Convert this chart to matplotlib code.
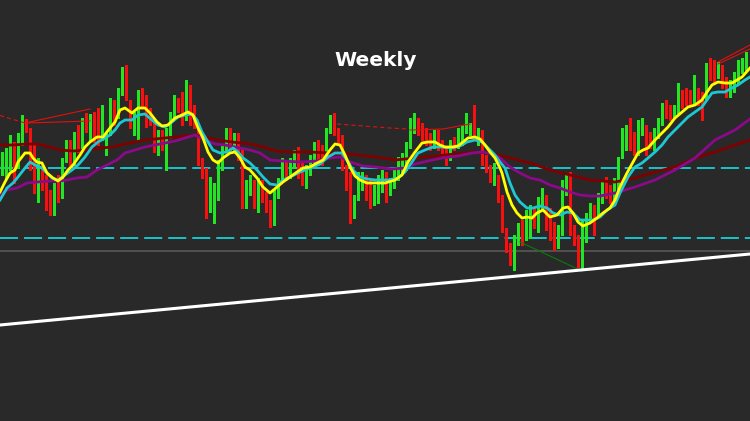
import matplotlib
matplotlib.use("Agg")
import matplotlib.pyplot as plt
import numpy as np

# ----------------------------------------------------------------------------
# Weekly candles (price in chart units)
# ----------------------------------------------------------------------------
opens = [233, 232, 235, 253, 235, 258, 278, 270, 248, 210, 232, 222, 203, 190, 214, 208, 245, 255, 238, 270,
         252, 283, 265, 283, 278, 265, 248, 268, 295, 285, 308, 330, 292, 275, 278, 307, 298, 288, 272, 250,
         265, 262, 267, 288, 298, 303, 287, 303, 292, 272, 237, 227, 198, 207, 207, 235, 252, 268, 255, 263,
         248, 198, 210, 217, 205, 215, 203, 193, 177, 210, 225, 233, 230, 235, 242, 232, 220, 230, 240, 257,
         252, 247, 270, 283, 268, 262, 232, 223, 185, 202, 220, 220, 217, 200, 205, 213, 225, 212, 218, 223,
         233, 233, 255, 277, 278, 272, 268, 262, 257, 265, 255, 248, 245, 260, 257, 258, 270, 270, 273, 258,
         267, 240, 230, 220, 220, 202, 158, 153, 140, 160, 175, 168, 187, 187, 172, 198, 200, 188, 172, 162,
         170, 213, 227, 170, 162, 132, 162, 183, 190, 190, 202, 213, 210, 205, 213, 247, 255, 270, 257, 250,
         270, 273, 262, 255, 267, 278, 293, 290, 287, 290, 307, 308, 305, 298, 307, 302, 303, 337, 333, 328,
         332, 320, 308, 312, 320, 330, 335]
highs = [248, 252, 265, 258, 267, 285, 281, 272, 255, 242, 235, 225, 210, 217, 225, 242, 260, 260, 268, 275,
         282, 287, 286, 288, 292, 295, 268, 302, 300, 312, 333, 335, 300, 288, 310, 312, 305, 292, 278, 270,
         270, 272, 288, 305, 302, 308, 320, 315, 295, 275, 242, 232, 223, 217, 240, 255, 272, 272, 267, 267,
         252, 220, 225, 220, 222, 220, 208, 200, 210, 222, 242, 240, 242, 250, 253, 238, 235, 245, 258, 260,
         255, 272, 285, 287, 272, 265, 235, 228, 205, 228, 228, 225, 220, 215, 225, 230, 228, 222, 230, 243,
         247, 258, 282, 287, 282, 277, 272, 267, 270, 270, 260, 252, 260, 263, 272, 275, 287, 277, 295, 272,
         270, 245, 235, 237, 225, 205, 172, 157, 165, 177, 180, 190, 195, 192, 203, 212, 205, 192, 178, 175,
         220, 227, 228, 175, 165, 180, 187, 197, 195, 207, 218, 223, 215, 222, 243, 272, 275, 282, 268, 280,
         282, 275, 268, 272, 282, 297, 300, 295, 295, 317, 310, 312, 310, 325, 312, 308, 337, 342, 340, 338,
         335, 323, 320, 328, 340, 342, 348]
lows = [225, 222, 230, 217, 232, 255, 268, 230, 207, 198, 210, 190, 185, 185, 198, 202, 238, 235, 235, 248,
        250, 268, 260, 258, 255, 260, 245, 265, 275, 282, 305, 300, 272, 265, 260, 292, 273, 275, 248, 245,
        250, 230, 262, 282, 288, 275, 280, 275, 272, 235, 222, 182, 188, 177, 200, 230, 248, 250, 250, 240,
        192, 192, 205, 192, 188, 198, 188, 173, 175, 202, 220, 220, 222, 232, 222, 215, 212, 225, 238, 235,
        235, 245, 267, 265, 257, 230, 210, 177, 182, 200, 210, 200, 192, 195, 197, 208, 198, 205, 212, 220,
        228, 230, 252, 267, 265, 260, 255, 250, 252, 250, 242, 235, 240, 250, 252, 255, 267, 265, 262, 255,
        235, 228, 218, 215, 198, 168, 148, 135, 130, 155, 155, 160, 162, 172, 168, 190, 170, 160, 150, 152,
        165, 205, 165, 155, 133, 130, 158, 178, 165, 185, 197, 202, 197, 200, 210, 242, 250, 250, 245, 245,
        265, 245, 252, 250, 262, 275, 282, 280, 282, 287, 292, 295, 295, 295, 295, 280, 300, 320, 317, 322,
        312, 303, 303, 308, 317, 327, 330]
closes = [238, 248, 253, 225, 257, 273, 270, 235, 208, 230, 213, 198, 193, 213, 212, 240, 255, 240, 265, 252,
          280, 272, 283, 263, 262, 280, 262, 298, 280, 308, 328, 302, 275, 285, 308, 298, 278, 282, 250, 262,
          258, 267, 285, 298, 295, 280, 307, 293, 277, 240, 230, 200, 212, 208, 235, 250, 268, 252, 262, 245,
          195, 212, 220, 203, 212, 203, 193, 182, 208, 213, 235, 225, 238, 243, 227, 218, 230, 242, 255, 240,
          237, 270, 283, 267, 260, 235, 217, 183, 197, 223, 223, 208, 198, 210, 220, 225, 213, 218, 225, 233,
          240, 255, 278, 279, 270, 265, 260, 255, 263, 255, 245, 245, 257, 255, 268, 272, 272, 272, 265, 268,
          238, 232, 223, 233, 202, 173, 152, 140, 162, 173, 168, 187, 192, 180, 200, 208, 187, 165, 162, 168,
          215, 223, 170, 160, 140, 177, 183, 192, 180, 203, 215, 207, 203, 217, 240, 257, 270, 255, 248, 272,
          273, 247, 258, 267, 277, 293, 287, 283, 290, 305, 297, 297, 298, 308, 300, 300, 333, 322, 320, 332,
          315, 305, 315, 323, 332, 338, 340]

# ----------------------------------------------------------------------------
# Moving averages (bar position, value)
# ----------------------------------------------------------------------------
fast_bar = [-0.5, 0.75, 2, 3.25, 4, 5.75, 7, 7.75, 8.75, 10, 11.25, 12.75, 14, 15.25, 16.5, 17.75, 19.5, 20.75,
            22, 23.75, 25.25, 27, 28.25, 29.5, 30.75, 32.5, 34, 35.75, 37, 38.75, 40, 41.5, 43.25, 45, 46.5,
            47.75, 49, 50.25, 51.5, 52.75, 54, 55.25, 57, 58.25, 59.5, 60.75, 62, 63.75, 65.25, 67, 68.75,
            70.25, 72, 73.75, 75.25, 77, 78.75, 80.25, 82, 83.25, 84.5, 85.75, 87, 88.25, 89.5, 91.25, 93.25,
            95.75, 98.25, 100, 101.5, 103.25, 105, 106.5, 108.25, 109.5, 110.75, 112.5, 114, 115.25, 116.5,
            118.25, 119.5, 120.75, 122, 123.25, 124.5, 125, 126.25, 127.5, 128.75, 130, 131.25, 132.5, 133.75,
            135.25, 137, 138.75, 140.25, 141.5, 142.75, 144, 145.25, 147, 148.75, 150.25, 152, 153.25, 154.5,
            156.25, 157.75, 159, 160.25, 161.5, 163.25, 165, 166.5, 168.25, 170, 171.5, 173.25, 175, 176.25,
            177.5, 179, 180.75, 182.5, 183.75, 185, 187]
fast_val = [208, 218, 227, 230, 238, 247, 247, 242, 238, 237, 227, 222, 219, 223, 230, 235, 245, 253,
            258, 263, 263, 272, 278, 290, 292, 287, 292, 292, 287, 278, 274, 275, 282, 285, 288,
            285, 272, 262, 248, 240, 237, 242, 247, 248, 242, 233, 230, 222, 213, 207, 213,
            218, 223, 228, 232, 233, 237, 240, 250, 256, 255, 245, 233, 224, 220, 217, 217,
            217, 220, 225, 238, 248, 257, 258, 258, 255, 253, 253, 254, 258, 262,
            263, 261, 255, 248, 242, 232, 227, 208, 195, 187, 182, 183, 182, 187,
            190, 183, 185, 192, 193, 187, 178, 174, 177, 182, 187, 192, 200, 213,
            227, 238, 247, 250, 252, 260, 267, 273, 282, 288, 293, 295, 300, 308,
            315, 318, 317, 317, 320, 323, 332]

mid_bar = [-0.5, 1.25, 2.75, 4, 5.75, 7, 8.25, 10, 11.25, 12.5, 14, 15.75, 17.5, 19, 20.75, 22.5, 24, 25.75,
           27, 28.25, 29.5, 30.75, 32.5, 34, 35.75, 37.5, 39, 40.75, 42.5, 44, 45.75, 47.5, 48.75, 50, 51.5,
           52.75, 54.5, 56.25, 57.75, 59, 60.25, 62, 63.75, 65.25, 67, 68.75, 70.25, 72, 74.5, 77, 79.5, 81.5,
           83.25, 85, 86.25, 87.75, 89.5, 91.25, 93.25, 96.5, 99, 100.75, 102.5, 104, 105.75, 107.75, 110,
           112.5, 114.5, 116.25, 118.25, 120, 121.5, 123.25, 124.5, 125.75, 127, 128.25, 129.5, 131.25,
           132.75, 134.5, 136.25, 137.75, 139.5, 141.25, 142.75, 144.5, 146.25, 147.75, 149.5, 151.25,
           153.25, 154.5, 156.5, 158.25, 160, 161.5, 163.25, 165, 166.5, 168.25, 170, 171.5, 173.25, 175,
           176.25, 177.5, 179, 180.75, 182.5, 184, 185.75, 187]
mid_val = [200, 212, 217, 223, 232, 238, 235, 232, 227, 222, 220, 225, 230, 235, 243, 253, 258, 262,
           265, 270, 277, 280, 280, 285, 286, 280, 275, 273, 278, 283, 285, 286, 280, 268, 258,
           250, 247, 248, 252, 248, 242, 237, 230, 223, 216, 215, 220, 223, 228, 232, 236, 243,
           247, 247, 240, 230, 223, 221, 220, 220, 222, 228, 238, 247, 250, 253, 253,
           252, 254, 258, 260, 258, 252, 245, 238, 232, 217, 205, 198, 192,
           192, 194, 192, 187, 185, 188, 187, 180, 180, 180, 183, 190,
           195, 207, 223, 233, 237, 242, 248, 255, 263, 270, 277, 283, 288, 293,
           300, 307, 308, 308, 312, 315, 320, 323]

slow_bar = [-0.5, 1.25, 3.75, 6.25, 8.75, 12, 14.5, 16.25, 18.75, 21.25, 23.75, 26.25, 28.75, 30.75, 33.25,
            35.75, 38.25, 40.75, 43.25, 45.75, 48.25, 50.75, 53.25, 55.75, 58.25, 62, 64.5, 67, 70.25, 74.5,
            78.75, 82, 84.5, 87, 90.25, 93.25, 97.5, 100.75, 103.25, 106.5, 110, 114, 117.5, 120, 122.5,
            124.5, 127, 129.5, 132, 134.5, 137, 139.5, 142, 144.5, 147, 149.5, 153.25, 158.25, 163.25,
            168.25, 173.25, 178.25, 183.25, 187]
slow_val = [205, 210, 212, 217, 218, 219, 219, 220, 222, 223, 230, 235, 240, 247, 250,
            253, 255, 257, 259, 262, 265, 260, 256, 255, 253, 250, 247, 240, 239, 238,
            239, 242, 243, 238, 234, 233, 231, 232, 236, 239, 242, 244, 247, 248, 246,
            242, 233, 227, 222, 220, 215, 212, 208, 205, 204, 204, 207, 213, 220,
            230, 242, 260, 270, 281]

long_bar = [-0.5, 2.75, 6.25, 8.75, 12, 14.5, 17.75, 21.25, 24.5, 27.75, 30.75, 35.75, 40.75, 45.75, 48.25,
            50.75, 54, 57.5, 62, 65.25, 68.75, 72, 77, 82, 87, 93.25, 98.25, 103.25, 108.25, 113.25, 118.25,
            122, 127, 132, 137, 142, 147, 153.25, 158.25, 163.25, 168.25, 173.25, 178.25, 183.25, 187]
long_val = [255, 255, 256, 256, 253, 250, 249, 250, 252, 253, 256, 260, 262, 264, 265,
            263, 260, 258, 256, 253, 249, 248, 248, 247, 246, 243, 240, 242, 244, 246, 248,
            247, 242, 237, 230, 225, 220, 218, 222, 228, 233, 242, 248, 255, 260]

# ----------------------------------------------------------------------------
# Horizontal levels and drawn trendlines
# ----------------------------------------------------------------------------
levels_cyan = [232, 162]
level_gray = 149
support_bar = [-0.5, 187]
support_val = [75, 146]
green_bar = [129.5, 145]
green_val = [158, 129]
red_dashed = [([-0.5, 5.75], [284.5, 277]), ([83.75, 97, 101.5], [276, 272, 271])]
red_solid = [([5.75, 22], [277, 291]), ([6.25, 22], [277, 279]),
             ([102, 110.25, 117], [270, 271, 276]),
             ([179, 187], [338, 355]), ([179, 187], [336, 351])]

BG = "#292929"
UP = "#22e622"
DOWN = "#f81010"

plt.rcParams["lines.scale_dashes"] = False

fig = plt.figure(figsize=(7.5, 4.21), dpi=100, facecolor=BG)
ax = fig.add_axes([0, 0, 1, 1])
ax.set_facecolor(BG)
ax.set_xlim(-0.5, 187)
ax.set_ylim(-21, 400)
ax.axis("off")

# levels
for lv in levels_cyan:
    ax.axhline(lv, color="#18c4cc", lw=1.4, ls=(0, (13, 4.3)), zorder=1)
ax.axhline(level_gray, color="#5c5c5c", lw=1.1, zorder=1)

# candles
o = np.array(opens, dtype=float)
h = np.array(highs, dtype=float)
l = np.array(lows, dtype=float)
c = np.array(closes, dtype=float)
x = np.arange(len(o))
colors = np.where(c >= o, UP, DOWN)
ax.vlines(x, l, h, colors=colors, lw=1.0, zorder=2, antialiased=False)
body_bottom = np.minimum(o, c)
body_h = np.maximum(np.abs(c - o), 1.5)
ax.bar(x, body_h, bottom=body_bottom, width=0.68, color=colors, linewidth=0, zorder=3,
       antialiased=False)

# drawn lines
for bx, by in red_dashed:
    ax.plot(bx, by, color="#e01010", lw=0.8, ls=(0, (3, 2.2)), zorder=4)
for bx, by in red_solid:
    ax.plot(bx, by, color="#e01010", lw=0.8, zorder=4)
ax.plot(green_bar, green_val, color="#0b7a0b", lw=0.8, zorder=4)
ax.plot(support_bar, support_val, color="white", lw=2.2, zorder=6)

# moving averages
ax.plot(long_bar, long_val, color="#800000", lw=2.0, zorder=5)
ax.plot(slow_bar, slow_val, color="#8a0a8a", lw=2.0, zorder=5)
ax.plot(mid_bar, mid_val, color="#1ec8d2", lw=2.0, zorder=5)
ax.plot(fast_bar, fast_val, color="#ffff00", lw=2.0, zorder=5)

ax.text(376 / 750, 1 - 61 / 421, "Weekly", transform=ax.transAxes, ha="center", va="center",
        color="white", fontsize=14.5, fontweight="bold", family="DejaVu Sans")

fig.savefig("out.png", dpi=100, facecolor=BG)
